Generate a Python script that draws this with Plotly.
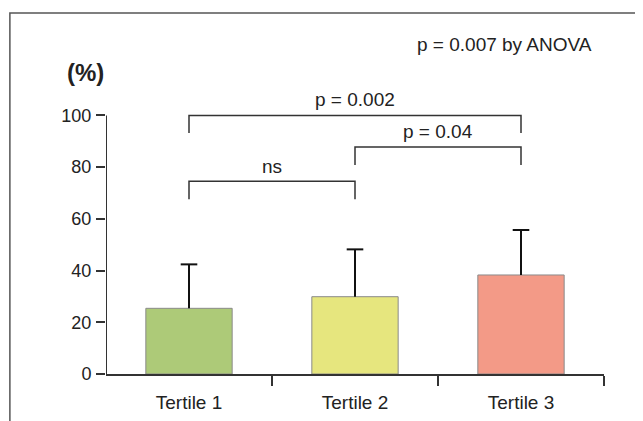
import plotly.graph_objects as go

categories = ["Tertile 1", "Tertile 2", "Tertile 3"]
means = [25.4, 29.9, 38.3]
sds = [17.0, 18.3, 17.4]
colors = ["#adca78", "#e6e67e", "#f39a87"]
y_ticks = [0, 20, 40, 60, 80, 100]

# comparisons: (left index, right index, top, leg bottom, label, label y)
comparisons = [
    (0, 2, 100.0, 93.2, "p = 0.002", 106.0),
    (1, 2, 87.8, 80.8, "p = 0.04", 93.6),
    (0, 1, 74.5, 67.6, "ns", 80.4),
]

FONT = "Liberation Sans, Arial, Helvetica, sans-serif"
xs = list(range(len(categories)))
CAP = 0.05

fig = go.Figure()
fig.add_trace(go.Bar(
    x=xs, y=means, width=0.52,
    marker=dict(color=colors, line=dict(color="#8a8a8a", width=1)),
    showlegend=False, hoverinfo="skip",
))
# upper-only error bars
for i, (m, s) in enumerate(zip(means, sds)):
    fig.add_trace(go.Scatter(
        x=[i, i, None, i - CAP, i + CAP], y=[m, m + s, None, m + s, m + s],
        mode="lines", line=dict(color="#111111", width=2),
        showlegend=False, hoverinfo="skip",
    ))

shapes = []
# y axis line up to 100
shapes.append(dict(type="line", xref="x", yref="y", x0=-0.5, x1=-0.5, y0=0, y1=max(y_ticks),
                   line=dict(color="#333333", width=2)))
for (a, b, top, bot, lab, ly) in comparisons:
    shapes.append(dict(type="path", xref="x", yref="y",
                       path=f"M {a},{bot} L {a},{top} L {b},{top} L {b},{bot}",
                       line=dict(color="#333333", width=1.5)))
# outer frame (top and left edges)
shapes.append(dict(type="path", xref="paper", yref="paper",
                   path="M -0.193,-0.2 L -0.193,0.997 L 1.2,0.997",
                   line=dict(color="#555555", width=1.5)))

annotations = []
for (a, b, top, bot, lab, ly) in comparisons:
    annotations.append(dict(x=(a + b) / 2, y=ly, xref="x", yref="y", text=lab,
                            showarrow=False, font=dict(size=19, color="#222222", family=FONT)))
annotations.append(dict(x=1.9, y=127.3, xref="x", yref="y", text="p = 0.007 by ANOVA",
                        showarrow=False, font=dict(size=19, color="#222222", family=FONT)))
annotations.append(dict(x=-0.042, y=0.834, xref="paper", yref="paper", text="<b>(%)</b>",
                        xanchor="center", yanchor="middle",
                        showarrow=False, font=dict(size=24, color="#222222", family=FONT)))

fig.update_layout(
    width=635, height=413,
    margin=dict(l=98, r=39, t=4, b=47),
    plot_bgcolor="white", paper_bgcolor="white",
    shapes=shapes, annotations=annotations,
    font=dict(family=FONT, size=17, color="#222222"),
    xaxis=dict(range=[-0.5, 2.5], tickvals=xs, ticktext=categories, ticks="",
               showline=True, linecolor="#333333", linewidth=2, showgrid=False,
               zeroline=False, fixedrange=True, ticklabelstandoff=10,
               minor=dict(tickvals=[0.5, 1.5, 2.5], ticks="outside", ticklen=10,
                          tickcolor="#333333", tickwidth=2),
               tickfont=dict(size=19, color="#222222")),
    yaxis=dict(range=[0, 140], tickvals=y_ticks, ticks="outside", ticklen=9,
               tickcolor="#333333", tickwidth=2, showline=False, showgrid=False,
               zeroline=False, ticklabelstandoff=1,
               tickfont=dict(size=18, color="#222222")),
)

fig.write_html("out.html")
